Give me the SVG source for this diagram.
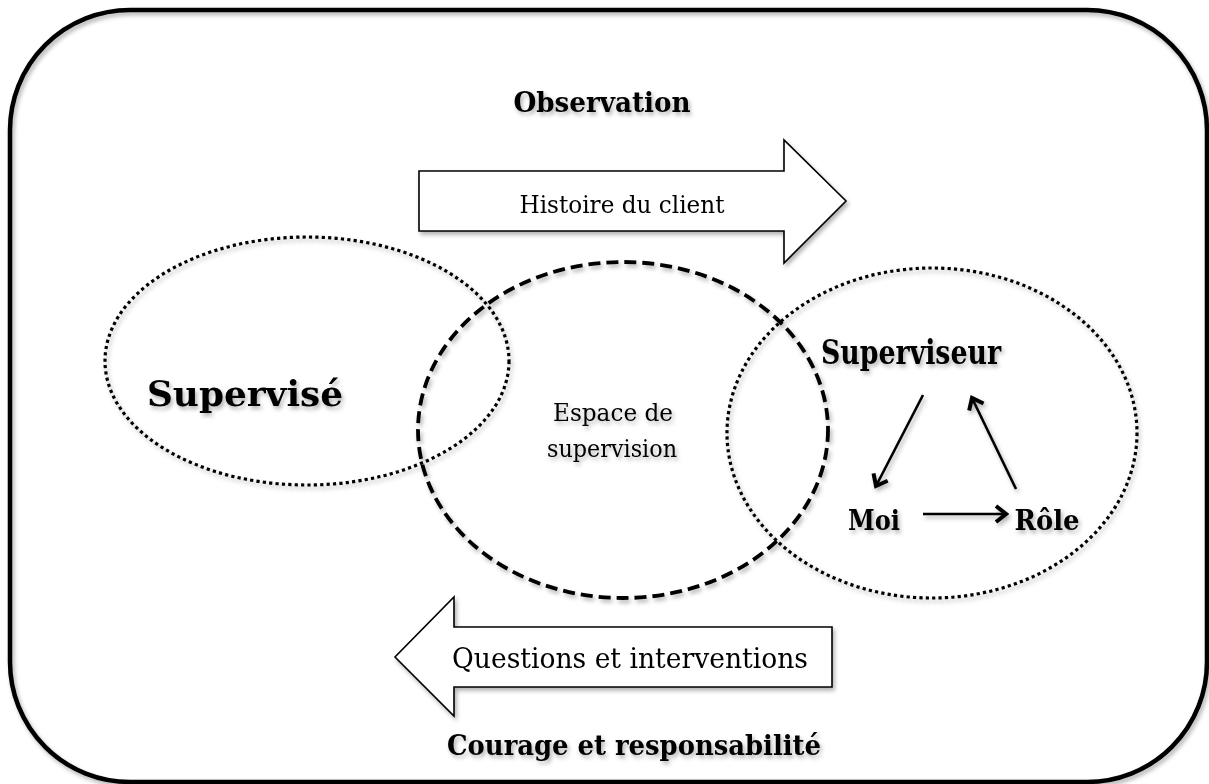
<svg xmlns="http://www.w3.org/2000/svg" width="1209" height="784" viewBox="0 0 1209 784">
<style>
.b{font-family:"DejaVu Serif","Liberation Serif",serif;font-weight:bold;fill:#000;text-anchor:middle}
.r{font-family:"DejaVu Serif","Liberation Serif",serif;font-weight:normal;fill:#000;text-anchor:middle}
.dot{fill:none;stroke:#000;stroke-width:3.2;stroke-dasharray:3.2 3.2}
.dash{fill:none;stroke:#000;stroke-width:3.8;stroke-dasharray:12 6}
.big{fill:#fff;stroke:#000;stroke-width:1.6;stroke-linejoin:miter}
.con{stroke:#000;stroke-width:2.6;fill:none}
</style>
<defs>
<filter id="sh" x="-5%" y="-5%" width="115%" height="115%">
<feDropShadow dx="2" dy="3" stdDeviation="2" flood-color="#000" flood-opacity="0.3"/>
</filter>
<marker id="chev" viewBox="0 0 16 20" refX="13" refY="10" markerWidth="16" markerHeight="20" markerUnits="userSpaceOnUse" orient="auto">
<path d="M3,2 L13,10 L3,18" fill="none" stroke="#000" stroke-width="4"/>
</marker>
</defs>
<rect width="1209" height="784" fill="#fff"/>
<g filter="url(#sh)">
<rect id="frame" x="10" y="10" width="1197" height="772" rx="120" ry="120" fill="none" stroke="#000" stroke-width="4.5"/>
<g id="observation"><text class="b" x="602" y="112" font-size="27" textLength="177" lengthAdjust="spacingAndGlyphs">Observation</text></g>
<g id="histoire">
<path class="big" d="M419,171 H784 V140 L846,201 L784,263 V231 H419 Z"/>
<text class="r" x="622" y="213" font-size="25" textLength="205" lengthAdjust="spacingAndGlyphs">Histoire du client</text>
</g>
<g id="supervise">
<ellipse class="dot" cx="307" cy="361" rx="202" ry="124"/>
<text class="b" x="245" y="406" font-size="36" textLength="196" lengthAdjust="spacingAndGlyphs">Supervisé</text>
</g>
<g id="espace">
<ellipse class="dash" cx="623" cy="430" rx="205" ry="168"/>
<text class="r" x="613" y="421" font-size="25" textLength="120" lengthAdjust="spacingAndGlyphs">Espace de</text>
<text class="r" x="612" y="457" font-size="25" textLength="130" lengthAdjust="spacingAndGlyphs">supervision</text>
</g>
<g id="superviseur">
<ellipse class="dot" cx="932" cy="433" rx="205" ry="165"/>
<text class="b" x="911" y="364" font-size="34" textLength="180" lengthAdjust="spacingAndGlyphs">Superviseur</text>
</g>
<g id="moi"><text class="b" x="874" y="530" font-size="27" textLength="52" lengthAdjust="spacingAndGlyphs">Moi</text></g>
<g id="role"><text class="b" x="1047" y="530" font-size="27" textLength="65" lengthAdjust="spacingAndGlyphs">Rôle</text></g>
<g id="questions">
<path class="big" d="M832,627 H454 V597 L395,657 L454,716 V687 H832 Z"/>
<text class="r" x="630" y="668" font-size="28" textLength="356" lengthAdjust="spacingAndGlyphs">Questions et interventions</text>
</g>
<g id="courage"><text class="b" x="634" y="755" font-size="27" textLength="374" lengthAdjust="spacingAndGlyphs">Courage et responsabilité</text></g>
<g id="connectors">
<line class="con" x1="923" y1="395" x2="876" y2="486" marker-end="url(#chev)"/>
<line class="con" x1="923" y1="514" x2="1006" y2="514" marker-end="url(#chev)"/>
<line class="con" x1="1016" y1="489" x2="972" y2="398" marker-end="url(#chev)"/>
</g>
</g>
</svg>
